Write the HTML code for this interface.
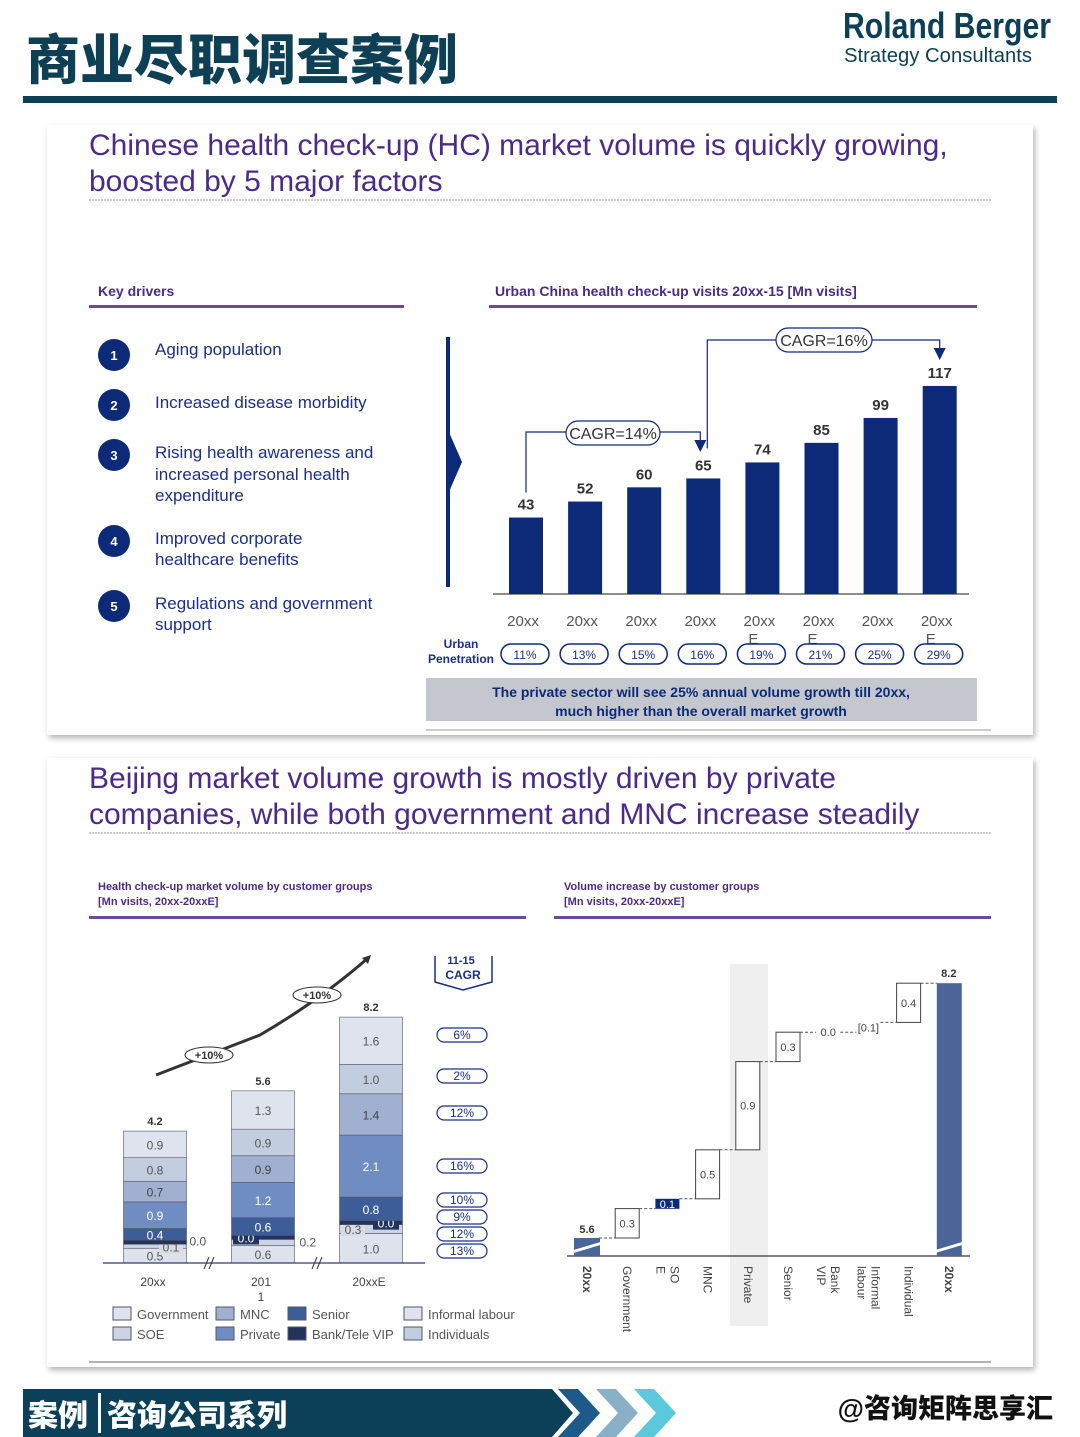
<!DOCTYPE html>
<html><head><meta charset="utf-8">
<style>
body{margin:0;width:1080px;height:1437px;background:#fff;overflow:hidden;font-family:"Liberation Sans","Noto Sans CJK SC",sans-serif;}
svg{display:block}
text{font-family:"Liberation Sans","Noto Sans CJK SC",sans-serif}
</style></head><body>
<svg width="1080" height="1437" viewBox="0 0 1080 1437" xmlns="http://www.w3.org/2000/svg">
<defs>
<filter id="sh" x="-5%" y="-5%" width="110%" height="110%"><feDropShadow dx="2" dy="3" stdDeviation="3" flood-color="#000" flood-opacity="0.3"/></filter>
</defs>
<text x="26" y="79" font-size="54" font-weight="900" fill="#0d3f55" font-family="Noto Sans CJK SC, sans-serif">商业尽职调查案例</text>
<text x="843" y="38" font-size="36" font-weight="bold" fill="#0d3f55" textLength="208" lengthAdjust="spacingAndGlyphs">Roland Berger</text>
<text x="844" y="62" font-size="20" fill="#0d3f55" font-family="Liberation Serif, serif" textLength="188" lengthAdjust="spacingAndGlyphs">Strategy Consultants</text>
<rect x="23" y="96" width="1034" height="7" fill="#0d3f55"/>

<rect x="47" y="125" width="986" height="610" fill="#fff" filter="url(#sh)"/>
<text font-size="30" fill="#4b2a8c"><tspan x="89" y="155">Chinese health check-up (HC) market volume is quickly growing,</tspan><tspan x="89" y="191">boosted by 5 major factors</tspan></text>
<line x1="89" y1="200" x2="991" y2="200" stroke="#999" stroke-dasharray="2,1"/>
<text x="98" y="296" font-size="14" font-weight="bold" fill="#4b2a8c">Key drivers</text>
<rect x="89" y="305" width="315" height="3" fill="#6a4a9c"/>
<text x="495" y="296" font-size="14" font-weight="bold" fill="#4b2a8c">Urban  China health check-up  visits 20xx-15 [Mn visits]</text>
<rect x="489" y="305" width="488" height="3" fill="#6a4a9c"/>

<g font-size="17" fill="#1a2e8a">
<circle cx="114" cy="355" r="16" fill="#0c2a78"/><text x="114" y="360" font-size="13" fill="#fff" text-anchor="middle" font-weight="bold">1</text>
<text x="155" y="355">Aging population</text>
<circle cx="114" cy="405" r="16" fill="#0c2a78"/><text x="114" y="410" font-size="13" fill="#fff" text-anchor="middle" font-weight="bold">2</text>
<text x="155" y="408">Increased disease morbidity</text>
<circle cx="114" cy="455" r="16" fill="#0c2a78"/><text x="114" y="460" font-size="13" fill="#fff" text-anchor="middle" font-weight="bold">3</text>
<text x="155" y="458">Rising health awareness and</text><text x="155" y="480">increased personal health</text><text x="155" y="501">expenditure</text>
<circle cx="114" cy="541" r="16" fill="#0c2a78"/><text x="114" y="546" font-size="13" fill="#fff" text-anchor="middle" font-weight="bold">4</text>
<text x="155" y="544">Improved corporate</text><text x="155" y="565">healthcare benefits</text>
<circle cx="114" cy="606" r="16" fill="#0c2a78"/><text x="114" y="611" font-size="13" fill="#fff" text-anchor="middle" font-weight="bold">5</text>
<text x="155" y="609">Regulations and government</text><text x="155" y="630">support</text>
</g>
<rect x="446" y="337" width="4" height="250" fill="#0c2a78"/>
<polygon points="448,430 462,462 448,494" fill="#0c2a78"/>

<g id="chart1"></g>
<g font-size="12" font-weight="bold" fill="#1a2e8a" text-anchor="middle"><text x="461" y="648">Urban</text><text x="461" y="663">Penetration</text></g>
<rect x="426" y="678" width="551" height="43" fill="#c4c7cd"/>
<text font-size="14" font-weight="bold" fill="#0c2a78" text-anchor="middle"><tspan x="701" y="697">The private sector will see 25% annual volume growth till 20xx,</tspan><tspan x="701" y="716">much higher than the overall market growth</tspan></text>
<line x1="426" y1="730" x2="991" y2="730" stroke="#999"/>

<rect x="47" y="758" width="986" height="609" fill="#fff" filter="url(#sh)"/>
<text font-size="30" fill="#4b2a8c"><tspan x="89" y="788">Beijing market volume growth is mostly driven by private</tspan><tspan x="89" y="824">companies, while both government and MNC increase steadily</tspan></text>
<line x1="89" y1="833" x2="991" y2="833" stroke="#999" stroke-dasharray="2,1"/>
<g font-size="11" font-weight="bold" fill="#4b2a8c"><text x="98" y="890">Health check-up market volume by customer groups</text><text x="98" y="905">[Mn visits, 20xx-20xxE]</text></g>
<rect x="89" y="916" width="437" height="3" fill="#6a4a9c"/>
<g font-size="11" font-weight="bold" fill="#4b2a8c"><text x="564" y="890">Volume increase by customer groups</text><text x="564" y="905">[Mn visits, 20xx-20xxE]</text></g>
<rect x="554" y="916" width="437" height="3" fill="#6a4a9c"/>

<g id="chart2"></g>
<g id="chart3"></g>
<line x1="89" y1="1362" x2="991" y2="1362" stroke="#666"/>

<rect x="23" y="1389" width="520" height="48" fill="#0c4058"/>
<polygon points="540,1389 552,1389 573,1413 552,1437 540,1437" fill="#0c4058"/>
<rect x="98" y="1393" width="3" height="40" fill="#fff"/>
<text x="28" y="1426" font-size="30" font-weight="900" fill="#fff" font-family="Noto Sans CJK SC, sans-serif">案例</text>
<text x="107" y="1426" font-size="30" font-weight="900" fill="#fff" font-family="Noto Sans CJK SC, sans-serif">咨询公司系列</text>
<polygon points="558,1389 578,1389 600,1413 578,1437 558,1437 580,1413" fill="#1d5a8a"/>
<polygon points="596,1389 616,1389 638,1413 616,1437 596,1437 618,1413" fill="#8ab0c8"/>
<polygon points="634,1389 654,1389 676,1413 654,1437 634,1437 656,1413" fill="#5bc8dc"/>
<text x="1053" y="1418" font-size="27" font-weight="900" fill="#111" text-anchor="end" font-family="Noto Sans CJK SC, sans-serif">@咨询矩阵思享汇</text>
</svg>
<script>
const NS="http://www.w3.org/2000/svg";
function mk(p,tag,a,txt){const e=document.createElementNS(NS,tag);for(const k in a)e.setAttribute(k,a[k]);if(txt!==undefined)e.textContent=txt;p.appendChild(e);return e;}

// ---------- Chart 1 data ----------
const c1Years=["20xx","20xx","20xx","20xx","20xxE","20xxE","20xx","20xxE"];
const c1Values=[43,52,60,65,74,85,99,117];
const c1Penetration=["11%","13%","15%","16%","19%","21%","25%","29%"];
(function(){
 const g=document.getElementById('chart1');
 const base=594, k=1.778, x0=526, step=59.1, bw=34;
 const X=i=>x0+i*step, Y=v=>base-v*k;
 mk(g,'line',{x1:493,y1:base,x2:969,y2:base,stroke:'#666','stroke-width':1.5});
 c1Values.forEach((v,i)=>{
  const r=mk(g,'rect',{x:X(i)-bw/2,y:Y(v),width:bw,height:base-Y(v),fill:'#0c2a78'});
  
  
  const t=mk(g,'text',{x:X(i),y:Y(v)-8,'font-size':15,'font-weight':'bold',fill:'#333','text-anchor':'middle'},String(v));
  
  
  const yr=c1Years[i], lbl=yr.endsWith('E')?yr.slice(0,-1):yr;
  const yt=mk(g,'text',{x:X(i)-3,y:626,'font-size':15,fill:'#555','text-anchor':'middle'},lbl);
  
  
  if(yr.endsWith('E')) mk(g,'text',{x:X(i)-14,y:644,'font-size':15,fill:'#555'},'E');
  const pr=mk(g,'rect',{x:X(i)-25,y:644,width:48,height:20,rx:10,fill:'#fff',stroke:'#0c2a78','stroke-width':1.5});
  
  
  mk(g,'text',{x:X(i)-1,y:659,'font-size':12,fill:'#1a2e8a','text-anchor':'middle'},c1Penetration[i]);
 });
 const p1=`M${X(0)},${Y(c1Values[0])-25} V${432} H${X(3)-3} V${Y(c1Values[3])-30}`;
 mk(g,'path',{d:p1,fill:'none',stroke:'#0c2a78','stroke-width':1.2});
 mk(g,'polygon',{points:`${X(3)-9},${440} ${X(3)+3},${440} ${X(3)-3},${452}`,fill:'#0c2a78'});
 const p2=`M${X(3)+4},${Y(c1Values[3])-30} V340 H${X(7)} V350`;
 mk(g,'path',{d:p2,fill:'none',stroke:'#0c2a78','stroke-width':1.2});
 mk(g,'polygon',{points:`${X(7)-6},348 ${X(7)+6},348 ${X(7)},360`,fill:'#0c2a78'});
 const b1=mk(g,'rect',{x:566,y:421,width:94,height:24,rx:12,fill:'#fff',stroke:'#0c2a78','stroke-width':1.2});
 
 
 mk(g,'text',{x:613,y:439,'font-size':16,fill:'#333','text-anchor':'middle'},'CAGR=14%');
 const b2=mk(g,'rect',{x:776,y:328,width:96,height:24,rx:12,fill:'#fff',stroke:'#0c2a78','stroke-width':1.2});
 
 
 mk(g,'text',{x:824,y:346,'font-size':16,fill:'#333','text-anchor':'middle'},'CAGR=16%');
})();

// ---------- Chart 2 data (stacked, bottom-up) ----------
const c2Years=["20xx","201\n1","20xxE"];
const c2Totals=["4.2","5.6","8.2"];
const segGovernment=[0.5,0.6,1.0];
const segSOE=[0.1,0.2,0.3];
const segBankVIP=[0.0,0.0,0.0];
const segSenior=[0.4,0.6,0.8];
const segPrivate=[0.9,1.2,2.1];
const segMNC=[0.7,0.9,1.4];
const segInformal=[0.8,0.9,1.0];
const segIndividuals=[0.9,1.3,1.6];
const c2Cagr=["6%","2%","12%","16%","10%","9%","12%","13%"];
(function(){
 const g=document.getElementById('chart2');
 const base=1263, k=29.5, xs=[155,263,371], bw=63;
 const series=[
  {v:segGovernment,c:'#dde2ec',tc:'#555',n:'government'},
  {v:segSOE,c:'#ccd4e4',tc:'#555',n:'soe'},
  {v:segBankVIP,c:'#22345e',tc:'#fff',n:'bank-vip'},
  {v:segSenior,c:'#3d5d98',tc:'#fff',n:'senior'},
  {v:segPrivate,c:'#6f8dc2',tc:'#fff',n:'private'},
  {v:segMNC,c:'#9fb0d0',tc:'#444',n:'mnc'},
  {v:segInformal,c:'#c3cde0',tc:'#555',n:'informal'},
  {v:segIndividuals,c:'#dfe3ee',tc:'#555',n:'individuals'}];
 xs.forEach((x,i)=>{
  let y=base;
  series.forEach((s,si)=>{
   const h=Math.max(s.v[i]*k,4);
   const r=mk(g,'rect',{x:x-bw/2,y:y-h,width:bw,height:h,fill:s.c,stroke:'#556',"stroke-width":0.6});
   
   
   const lbl=s.v[i].toFixed(1);
   if(s.n==='soe'&&i===1){
    mk(g,'text',{x:x+bw/2+5,y:y-h/2+4,'font-size':12,fill:'#555'},lbl);
   } else if(h>=11) mk(g,'text',{x:x,y:y-h/2+5,'font-size':12,fill:s.tc,'text-anchor':'middle'},lbl);
   else if(s.n==='soe'){
    const bx=i===2?x-30:x+4;
    mk(g,'rect',{x:bx,y:y-h/2-7,width:24,height:14,fill:'#d8dce4'});
    mk(g,'text',{x:bx+12,y:y-h/2+5,'font-size':12,fill:'#555','text-anchor':'middle'},lbl);
   } else if(s.n==='bank-vip'){
    if(i===0) mk(g,'text',{x:x+bw/2+3,y:y+1,'font-size':12,fill:'#555'},lbl);
    else {
     const bx=i===1?x-30:x+2;
     mk(g,'rect',{x:bx,y:y-h/2-7,width:26,height:14,fill:'#22345e'});
     mk(g,'text',{x:bx+13,y:y-h/2+5,'font-size':12,fill:'#fff','text-anchor':'middle'},lbl);
    }
   }
   y-=h;
  });
  const tt=mk(g,'text',{x:x,y:y-6,'font-size':11,'font-weight':'bold',fill:'#333','text-anchor':'middle'},c2Totals[i]);
  
  
  const parts=c2Years[i].split('\n');
  parts.forEach((p,j)=>mk(g,'text',{x:x-2,y:1286+j*15,'font-size':12,fill:'#444','text-anchor':'middle'},p));
 });
 mk(g,'line',{x1:103,y1:base,x2:425,y2:base,stroke:'#2a3a7a','stroke-width':1.2});
 [209,317].forEach(x=>{mk(g,'line',{x1:x-5,y1:base+6,x2:x,y2:base-6,stroke:'#333'});mk(g,'line',{x1:x,y1:base+6,x2:x+5,y2:base-6,stroke:'#333'});});
 mk(g,'path',{d:'M156,1075 L260,1035 Q320,1000 368,958',fill:'none',stroke:'#333','stroke-width':3});
 mk(g,'polygon',{points:'362,958 371,955 368,964',fill:'#333'});
 [[209,1055],[317,995]].forEach(p=>{mk(g,'ellipse',{cx:p[0],cy:p[1],rx:24,ry:8,fill:'#fff',stroke:'#333'});mk(g,'text',{x:p[0],y:p[1]+4,'font-size':11,'font-weight':'bold',fill:'#333','text-anchor':'middle'},'+10%');});
 mk(g,'path',{d:'M435,956 V982 L463,990 L492,982 V956',fill:'none',stroke:'#1a2e8a','stroke-width':1.5});
 mk(g,'text',{x:461,y:964,'font-size':11,'font-weight':'bold',fill:'#1a2e8a','text-anchor':'middle'},'11-15');
 mk(g,'text',{x:463,y:979,'font-size':12,'font-weight':'bold',fill:'#1a2e8a','text-anchor':'middle'},'CAGR');
 const cy=[1035,1076,1113,1166,1200,1217,1234,1251];
 c2Cagr.forEach((c,j)=>{
  const p=mk(g,'rect',{x:437,y:cy[j]-7,width:50,height:14,rx:7,fill:'#fff',stroke:'#1a2e8a','stroke-width':1.2});
  
  
  mk(g,'text',{x:462,y:cy[j]+4,'font-size':12,fill:'#1a2e8a','text-anchor':'middle'},c);
 });
 const leg=[['Government',113,1315,'#dde2ec'],['SOE',113,1335,'#ccd4e4'],['MNC',216,1315,'#9fb0d0'],['Private',216,1335,'#6f8dc2'],['Senior',288,1315,'#3d5d98'],['Bank/Tele VIP',288,1335,'#22345e'],['Informal labour',404,1315,'#dfe3ee'],['Individuals',404,1335,'#c3cde0']];
 leg.forEach(l=>{
  const e=mk(g,'rect',{x:l[1],y:l[2]-8,width:18,height:13,fill:l[3],stroke:'#556'});
  
  
  mk(g,'text',{x:l[1]+24,y:l[2]+4,'font-size':13,fill:'#555'},l[0]);
 });
})();

// ---------- Chart 3 data (waterfall) ----------
const c3Categories=["Government","SO\nE","MNC","Private","Senior","Bank\nVIP","Informal\nlabour","Individual"];
const c3Deltas=[0.3,0.1,0.5,0.9,0.3,0.0,0.1,0.4];
const c3Labels=["0.3","0.1","0.5","0.9","0.3","0.0","[0.1]","0.4"];
const c3Start=5.6, c3End=8.2;
(function(){
 const g=document.getElementById('chart3');
 const base=1256, k=98, lvl0=1238, x0=587, step=40.2, bw=24;
 const X=i=>x0+i*step, Y=v=>lvl0-(v-c3Start)*k;
 mk(g,'rect',{x:730,y:964,width:38,height:362,fill:'#efefef'});
 mk(g,'line',{x1:567,y1:base,x2:970,y2:base,stroke:'#555','stroke-width':1.5});
 const sb=mk(g,'rect',{x:X(0)-13,y:Y(c3Start),width:26,height:base-Y(c3Start),fill:'#4a6698'});
 
 
 mk(g,'line',{x1:X(0)-15,y1:1252,x2:X(0)+15,y2:1243,stroke:'#fff','stroke-width':3});
 mk(g,'text',{x:X(0),y:Y(c3Start)-5,'font-size':11,'font-weight':'bold',fill:'#333','text-anchor':'middle'},c3Start.toFixed(1));
 let cum=c3Start;
 c3Deltas.forEach((d,i)=>{
  const xi=X(i+1), top=Y(cum+d), bot=Y(cum);
  mk(g,'line',{x1:X(i)+12,y1:bot,x2:xi-12,y2:bot,stroke:'#555','stroke-dasharray':'3,2'});
  if(d>=0.2){
   const r=mk(g,'rect',{x:xi-bw/2,y:top,width:bw,height:bot-top,fill:'#fff',stroke:'#444'});
   
   
   mk(g,'text',{x:xi,y:(top+bot)/2+4,'font-size':11,fill:'#444','text-anchor':'middle'},c3Labels[i]);
  } else if(i===1){
   const r=mk(g,'rect',{x:xi-12,y:top,width:24,height:Math.max(bot-top,10),fill:'#0c2a78'});
   
   
   mk(g,'text',{x:xi,y:top+9,'font-size':11,fill:'#fff','text-anchor':'middle'},c3Labels[i]);
  } else {
   const t=mk(g,'text',{x:xi,y:(top+bot)/2+4,'font-size':11,fill:'#444','text-anchor':'middle'},c3Labels[i]);
   
   
  }
  cum+=d;
 });
 const xe=X(9);
 mk(g,'line',{x1:X(8)+12,y1:Y(c3End),x2:xe-12,y2:Y(c3End),stroke:'#555','stroke-dasharray':'3,2'});
 const eb=mk(g,'rect',{x:xe-12,y:Y(c3End),width:25,height:base-Y(c3End),fill:'#4a6698'});
 
 
 mk(g,'line',{x1:xe-15,y1:1252,x2:xe+15,y2:1243,stroke:'#fff','stroke-width':3});
 mk(g,'text',{x:xe,y:Y(c3End)-6,'font-size':11,'font-weight':'bold',fill:'#333','text-anchor':'middle'},c3End.toFixed(1));
 const all=["20xx"].concat(c3Categories,["20xx"]);
 all.forEach((c,i)=>{
  const x=X(i), bold=(i===0||i===9);
  const lines=c.split('\n');
  lines.forEach((ln,j)=>{
   const off=lines.length>1?(j===0?7:-7):0;
   const t=mk(g,'text',{x:0,y:0,'font-size':12,fill:'#444','font-weight':bold?'bold':'normal',transform:`translate(${x-4+off},1266) rotate(90)`},ln);
   
   
  });
 });
})();
</script>
</body></html>
